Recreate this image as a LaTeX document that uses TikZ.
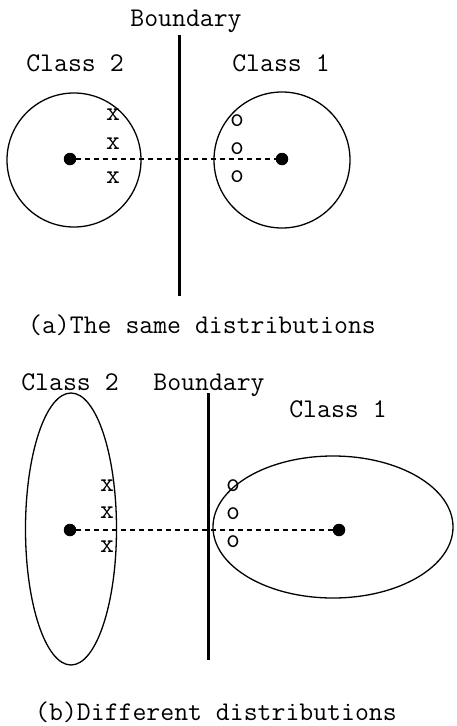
\documentclass[tikz,border=0pt]{standalone}
\usetikzlibrary{shapes.geometric}
\tikzset{
  lbl/.style={font=\ttfamily\fontsize{27}{32}\selectfont, inner sep=0pt, anchor=base},
  sym/.style={font=\ttfamily\fontsize{27}{32}\selectfont, inner sep=0pt},
  blob/.style={draw, line width=1.3pt, inner sep=0pt},
  dotc/.style={circle, fill=black, minimum size=12.5pt, inner sep=0pt},
  bound/.style={line width=3pt},
  link/.style={line width=1.3pt, dash pattern=on 5pt off 4pt}
}
\begin{document}
\begin{tikzpicture}[x=1pt,y=-1pt]
\useasboundingbox (0,0) rectangle (456,726);
% (a)
\node[lbl] (ba) at (186,26) {Boundary};
\coordinate (bat) at (179.5,35);
\coordinate (bab) at (179.5,296);
\draw[bound] (bat) -- (bab);
\node[lbl] (c2a) at (75,71) {Class 2};
\node[lbl] (c1a) at (281,71) {Class 1};
\node[blob, circle, minimum size=134pt] (L) at (74,160) {};
\node[blob, circle, minimum size=136pt] (R) at (282,160) {};
\node[dotc] (dL) at (70,159) {};
\node[dotc] (dR) at (282,159) {};
\draw[link] (dL) -- (dR);
\node[sym] (xa1) at (113,115) {x};
\node[sym] (xa2) at (113,144) {x};
\node[sym] (xa3) at (113,178) {x};
\node[sym] (oa1) at (237,121) {o};
\node[sym] (oa2) at (237,149) {o};
\node[sym] (oa3) at (237,177) {o};
\node[lbl] (capa) at (202,333) {(a)The same distributions};
% (b)
\node[lbl] (c2b) at (70,390) {Class 2};
\node[lbl] (bb) at (209,390) {Boundary};
\node[lbl] (c1b) at (338,417) {Class 1};
\coordinate (bbt) at (208,393);
\coordinate (bbb) at (208,660);
\draw[bound] (bbt) -- (bbb);
\node[blob, ellipse, minimum width=91pt, minimum height=272pt] (EL) at (71,529) {};
\node[blob, ellipse, minimum width=240pt, minimum height=142pt] (ER) at (333,527) {};
\node[dotc] (dL2) at (70,530) {};
\node[dotc] (dR2) at (339,530) {};
\draw[link] (dL2) -- (dR2);
\node[sym] (xb1) at (107,486) {x};
\node[sym] (xb2) at (107,513) {x};
\node[sym] (xb3) at (107,547) {x};
\node[sym] (ob1) at (233,486) {o};
\node[sym] (ob2) at (233,514) {o};
\node[sym] (ob3) at (233,542) {o};
\node[lbl] (capb) at (216,720) {(b)Different distributions};
\end{tikzpicture}
\end{document}
